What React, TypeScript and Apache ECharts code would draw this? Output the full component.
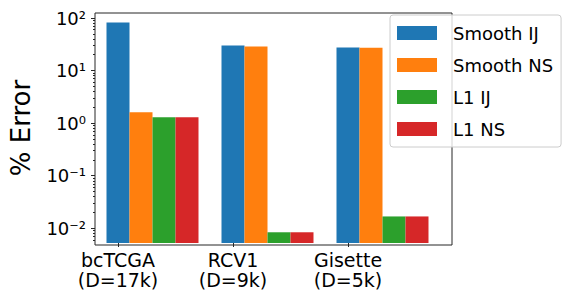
import React, { useEffect, useRef } from "react";
import * as echarts from "echarts";

const categories = ["bcTCGA\n(D=17k)", "RCV1\n(D=9k)", "Gisette\n(D=5k)"];
const seriesNames = ["Smooth IJ", "Smooth NS", "L1 IJ", "L1 NS"];
const smoothIJ = [82, 29.9, 27.4];
const smoothNS = [1.62, 28.6, 27.3];
const l1IJ = [1.3, 0.0084, 0.0168];
const l1NS = [1.3, 0.0084, 0.0168];
const seriesValues = [smoothIJ, smoothNS, l1IJ, l1NS];
const colors = ["#1f77b4", "#ff7f0e", "#2ca02c", "#d62728"];

const majorTicks = [0.01, 0.1, 1, 10, 100];
const majorTickLabels = ["10⁻²", "10⁻¹", "10⁰", "10¹", "10²"];
const minorMantissas = [2, 3, 4, 5, 6, 7, 8, 9];
const minorDecades = [0.001, 0.01, 0.1, 1, 10];
const yMin = 0.00525;
const yMax = 124.5;

const FONT = "DejaVu Sans";

export default function App() {
  const ref = useRef<HTMLDivElement>(null);
  useEffect(() => {
    if (!ref.current) return;
    const chart = echarts.init(ref.current, undefined, { renderer: "svg" });
    const minorTicks: number[] = [];
    minorDecades.forEach((d) =>
      minorMantissas.forEach((m) => {
        const v = +(m * d).toPrecision(3);
        if (v >= yMin && v <= yMax) minorTicks.push(v);
      })
    );
    // tick positions: centre of first bar of each group (band centre - 1.5 bar widths)
    const barFrac = 0.2;
    const tickPos = categories.map((_, i) => i - 1.5 * barFrac);

    const option: any = {
      animation: false,
      textStyle: { fontFamily: FONT },
      grid: [
        { left: 95, top: 13, width: 345, height: 232, containLabel: false },
        {
          left: 95,
          top: 13,
          width: 357,
          height: 232,
          show: true,
          borderColor: "#262626",
          borderWidth: 1,
          backgroundColor: "transparent",
          z: 5,
        },
      ],
      xAxis: [
        {
          type: "category",
          gridIndex: 0,
          position: "bottom",
          data: categories,
          show: false,
        },
        {
          type: "value",
          gridIndex: 0,
          position: "bottom",
          min: -0.5,
          max: 2.5,
          axisLine: { show: false, onZero: false },
          splitLine: { show: false },
          axisTick: {
            show: true,
            length: 4,
            customValues: tickPos,
            lineStyle: { color: "#262626", width: 1 },
          },
          axisLabel: {
            show: true,
            customValues: tickPos,
            formatter: (v: number) => categories[Math.round(v + 1.5 * barFrac)],
            fontSize: 19,
            lineHeight: 20,
            color: "#000",
            margin: 7,
            fontFamily: FONT,
          },
        },
        { type: "value", gridIndex: 1, show: false, min: 0, max: 1 },
      ],
      yAxis: [
        {
          type: "log",
          gridIndex: 0,
          logBase: 10,
          position: "left",
          min: yMin,
          max: yMax,
          startValue: yMin,
          name: "% Error",
          nameLocation: "middle",
          nameGap: 61,
          nameRotate: 90,
          nameTextStyle: { fontSize: 26, color: "#000", fontFamily: FONT },
          axisLine: { show: false, onZero: false },
          splitLine: { show: false },
          axisTick: {
            show: true,
            length: 4,
            customValues: majorTicks,
            lineStyle: { color: "#262626", width: 1 },
          },
          axisLabel: {
            show: true,
            customValues: majorTicks,
            formatter: (v: number) =>
              majorTickLabels[majorTicks.findIndex((t) => Math.abs(Math.log10(t) - Math.log10(v)) < 1e-6)] ?? "",
            fontSize: 18,
            color: "#000",
            margin: 9,
            fontFamily: FONT,
          },
        },
        {
          type: "log",
          gridIndex: 0,
          logBase: 10,
          min: yMin,
          max: yMax,
          position: "left",
          offset: 0,
          axisLine: { show: false, onZero: false },
          splitLine: { show: false },
          axisLabel: { show: false },
          axisTick: {
            show: true,
            length: 2,
            customValues: minorTicks,
            lineStyle: { color: "#262626", width: 1 },
          },
        },
        { type: "value", gridIndex: 1, show: false, min: 0, max: 1 },
      ],
      legend: {
        orient: "vertical",
        left: 390,
        top: 15,
        itemWidth: 40,
        itemHeight: 14,
        itemGap: 14,
        icon: "rect",
        padding: [9, 8, 9, 7],
        backgroundColor: "rgba(255,255,255,0.8)",
        borderColor: "#cccccc",
        borderWidth: 1,
        borderRadius: 3,
        textStyle: {
          fontSize: 18,
          color: "#000",
          fontFamily: FONT,
          padding: [0, 0, 0, 11],
          lineHeight: 14,
        },
        data: seriesNames,
        z: 10,
      },
      series: seriesNames.map((name, i) => ({
        name,
        type: "bar",
        xAxisIndex: 0,
        yAxisIndex: 0,
        barWidth: 23,
        barGap: "0%",
        itemStyle: { color: colors[i] },
        data: seriesValues[i],
      })),
    };
    chart.setOption(option);
    return () => chart.dispose();
  }, []);
  return (
    <div
      ref={ref}
      style={{ position: "absolute", left: 0, top: 0, width: 563, height: 290 }}
    />
  );
}
